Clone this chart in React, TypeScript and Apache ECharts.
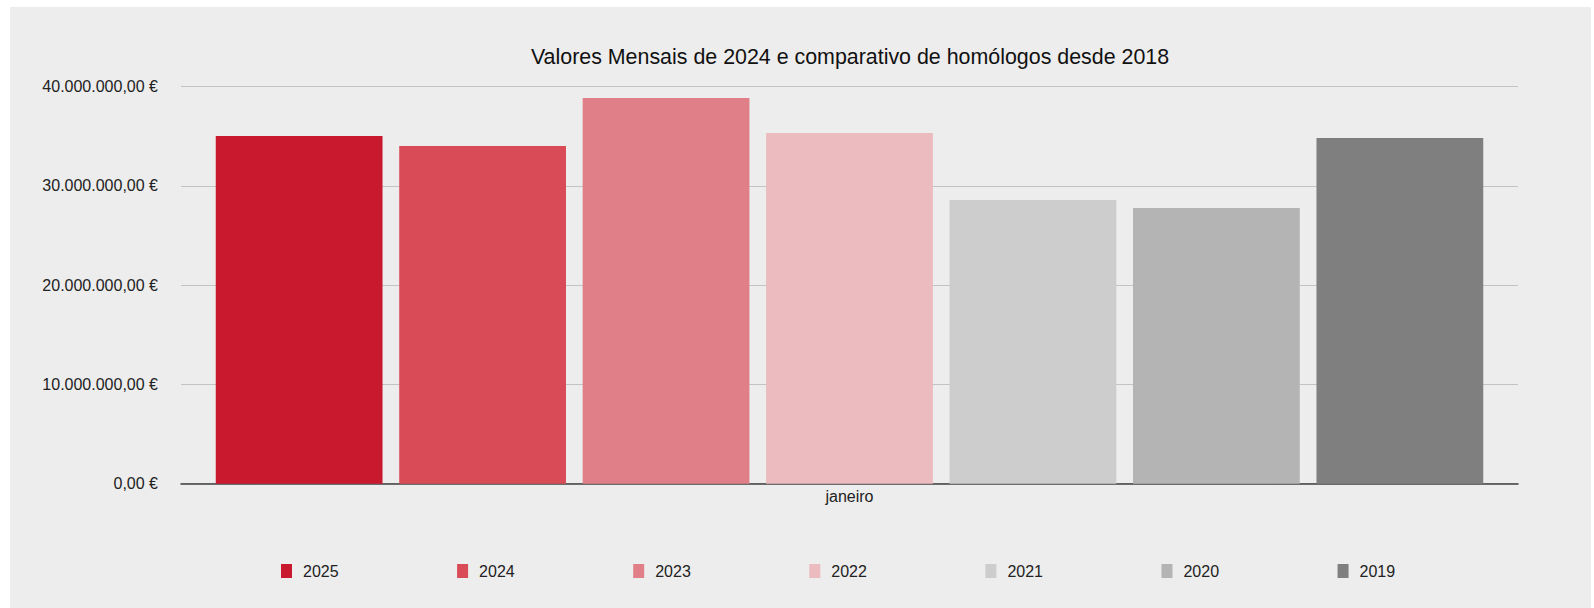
import React, { useEffect, useRef } from "react";
import * as echarts from "echarts";

const categories = ["janeiro"];
const seriesNames = ["2025", "2024", "2023", "2022", "2021", "2020", "2019"];
const seriesValues = [35030000, 34020000, 38860000, 35340000, 28580000, 27780000, 34830000];
const seriesColors = ["#c8192f", "#d94c57", "#e07f87", "#ebbbbf", "#cdcdcd", "#b4b4b4", "#7f7f7f"];
const titleText = "Valores Mensais de 2024 e comparativo de homólogos desde 2018";

const FONT = "'Liberation Sans', Arial, Helvetica, sans-serif";

function fmtEuro(v: number): string {
  const s = Math.round(v).toString().replace(/\B(?=(\d{3})+(?!\d))/g, ".");
  return s + ",00 €";
}

export default function App() {
  const ref = useRef<HTMLDivElement>(null);
  useEffect(() => {
    if (!ref.current) return;
    const chart = echarts.init(ref.current, undefined, { renderer: "svg" });
    chart.setOption({
      animation: false,
      backgroundColor: "#ededed",
      textStyle: { fontFamily: FONT },
      title: {
        text: titleText,
        left: 835,
        top: 34,
        textAlign: "center",
        textStyle: { fontFamily: FONT, fontSize: 21.4, fontWeight: "normal", color: "#111" },
      },
      legend: {
        left: 266,
        top: 551,
        itemWidth: 11,
        itemHeight: 14,
        itemGap: 118.5,
        icon: "rect",
        textStyle: { fontFamily: FONT, fontSize: 16, color: "#222", padding: [0, 0, 0, 6] },
        data: seriesNames,
      },
      grid: { left: 171, right: 73, top: 79.7, bottom: 124.3, containLabel: false },
      xAxis: {
        type: "category",
        data: categories,
        axisLine: { show: true, lineStyle: { color: "#404040", width: 1.5 } },
        axisTick: { show: false },
        axisLabel: { color: "#222", fontSize: 16, fontFamily: FONT, margin: 5 },
      },
      yAxis: {
        type: "value",
        min: 0,
        max: 40000000,
        interval: 10000000,
        axisLine: { show: false },
        axisTick: { show: false },
        splitLine: { lineStyle: { color: "#c3c3c3", width: 1.2 } },
        axisLabel: {
          color: "#222",
          fontSize: 16,
          fontFamily: FONT,
          margin: 23,
          formatter: (v: number) => fmtEuro(v),
        },
      },
      series: seriesNames.map((name, i) => ({
        name,
        type: "bar",
        data: [seriesValues[i]],
        itemStyle: { color: seriesColors[i] },
        barGap: "10%",
        barCategoryGap: "5.2%",
      })),
    });
    return () => chart.dispose();
  }, []);
  return (
    <div
      ref={ref}
      style={{ position: "absolute", left: 10, top: 7, width: 1581, height: 601 }}
    />
  );
}
